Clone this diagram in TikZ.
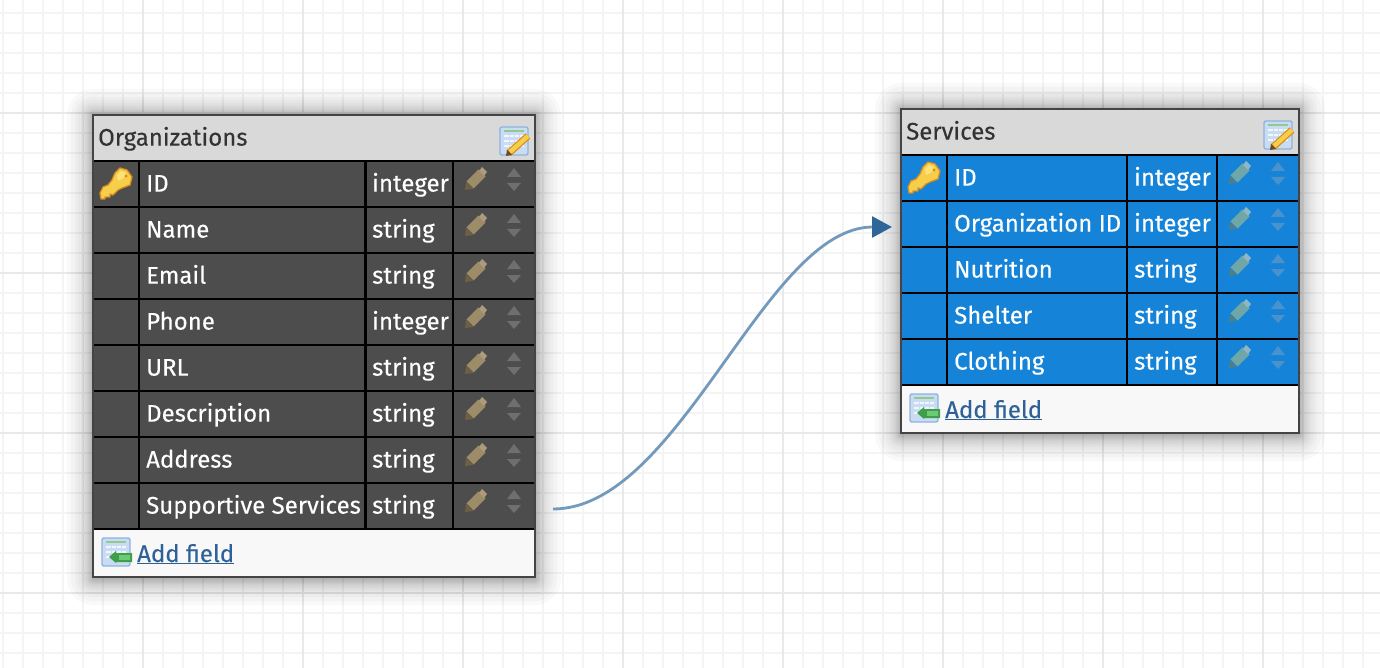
\documentclass[tikz,border=0pt]{standalone}
\usepackage{fontspec}
\setmainfont{Fira Sans}[FakeBold=0.25]
\usetikzlibrary{arrows.meta}
\definecolor{gridminor}{HTML}{F4F4F4}
\definecolor{gridmajor}{HTML}{E9E9E9}
\definecolor{darkrow}{HTML}{4D4D4D}
\definecolor{bluerow}{HTML}{1584D8}
\definecolor{headbg}{HTML}{D9D9D9}
\definecolor{footbg}{HTML}{F8F8F8}
\definecolor{frame}{HTML}{444444}
\definecolor{linkblue}{HTML}{2D6197}
\definecolor{wirecol}{HTML}{7399BD}
\definecolor{tipcol}{HTML}{2F6699}
\definecolor{gold}{HTML}{F7CE4A}
\definecolor{goldlight}{HTML}{FBE27A}
\definecolor{goldedge}{HTML}{D98E1F}
\definecolor{iconedge}{HTML}{8FB4DC}
\definecolor{iconfill}{HTML}{C9DCF3}
\definecolor{iconrow}{HTML}{F2F7FD}
\definecolor{icongreen}{HTML}{8FCB8B}
\definecolor{addgreen}{HTML}{3E9E4A}
\definecolor{addlight}{HTML}{6CCB74}
\definecolor{nib}{HTML}{6B4A2A}
\definecolor{penorg}{HTML}{9C8C68}
\definecolor{penorgd}{HTML}{6E5F45}
\definecolor{penorgl}{HTML}{AB9C80}
\definecolor{pensvc}{HTML}{6FA6A8}
\definecolor{pensvcd}{HTML}{4E7F88}
\definecolor{pensvcl}{HTML}{8FB6C4}
\definecolor{sortorg}{HTML}{6F6F6F}
\definecolor{sortsvc}{HTML}{4A92CC}
\tikzset{
  celltxt/.style={anchor=base west,inner sep=0pt,text=white,font=\fontsize{24}{24}\selectfont},
  headtxt/.style={anchor=base west,inner sep=0pt,text=black!80,font=\fontsize{24}{24}\selectfont},
  linktxt/.style={anchor=base west,inner sep=0pt,text=linkblue,font=\fontsize{24}{24}\selectfont},
  rule/.style={draw=black,line width=2.6pt},
  wire/.style={draw=wirecol,line width=2.8pt},
  tipstyle/.style={-{Triangle[length=20pt,width=21pt,color=tipcol]}},
  pics/keyicon/.style={code={
    \draw[line width=1.3pt,draw=goldedge,fill=gold,line join=round]
      (-1,-10) -- (4,-15) -- (11,-13) -- (16,-6) -- (14,2) -- (6,5) -- (2,7) -- (-3,12)
      -- (-6,11) -- (-6,14) -- (-11,14) -- (-11,16) -- (-15,16) -- (-16,10) -- (-13,4) -- (-8,2) -- (-4,-3) -- cycle;
    \fill[goldlight] (1,-8) -- (5,-12) -- (10,-10) -- (8,-5) -- (2,-2) -- cycle;
    \fill[goldedge] (10,-7) circle (1.6pt);
  }},
  pics/editicon/.style={code={
    \draw[line width=1.4pt,draw=iconedge,fill=iconfill,rounded corners=2pt] (-14,-14) rectangle (14,14);
    \fill[icongreen] (-10,-11) rectangle (10,-9);
    \foreach \r in {-5,0,5}{\fill[iconrow] (-10,\r-1.2) rectangle (10,\r+1.2);}
    \foreach \c in {-5,0,5}{\draw[iconfill,line width=1pt] (\c,-7) -- (\c,10);}
    \draw[line width=7pt,draw=goldedge] (-5,12) -- (14,-5);
    \draw[line width=4.5pt,draw=gold] (-4,11) -- (14,-5);
    \fill[nib] (-8,15) -- (-7,9) -- (-2,14) -- cycle;
  }},
  pics/addicon/.style={code={
    \draw[line width=1.4pt,draw=iconedge,fill=iconfill,rounded corners=2pt] (-14,-14) rectangle (14,14);
    \fill[icongreen] (-10,-11) rectangle (10,-9);
    \foreach \r in {-5,0,5}{\fill[iconrow] (-10,\r-1.2) rectangle (10,\r+1.2);}
    \foreach \c in {-5,0,5}{\draw[iconfill,line width=1pt] (\c,-7) -- (\c,10);}
    \fill[addgreen] (-7,5) -- (0,-1) -- (0,1) -- (16,1) -- (16,10) -- (0,10) -- (0,11) -- cycle;
    \fill[addlight] (3,3) rectangle (14,8);
  }},
  pics/pencilorgicon/.style={code={
    \draw[line width=10pt,draw=penorg] (-6,6) -- (6,-6);
    \fill[penorgd] (-11,11) -- (-10,3) -- (-3,10) -- cycle;
    \fill[penorgl] (6,-12) -- (11,-7) -- (8,-3) -- (3,-8) -- cycle;
  }},
  pics/pencilsvcicon/.style={code={
    \draw[line width=10pt,draw=pensvc] (-6,6) -- (6,-6);
    \fill[pensvcd] (-11,11) -- (-10,3) -- (-3,10) -- cycle;
    \fill[pensvcl] (6,-12) -- (11,-7) -- (8,-3) -- (3,-8) -- cycle;
  }},
  pics/sorticon/.style={code={
    \fill[#1] (-7,-3) -- (7,-3) -- (0,-12) -- cycle;
    \fill[#1] (-7,3) -- (7,3) -- (0,11) -- cycle;
  }},
}
\newcommand{\softshadow}[4]{%
  \foreach \g in {26,22,18,15,12,10,8,6,5,4,3,2,1,0}{
    \fill[black,opacity=0.022,rounded corners=\g pt] (#1-\g,#2-\g) rectangle (#3+\g,#4+\g+2);
  }}
\begin{document}
\begin{tikzpicture}[x=1pt,y=-1pt]
\useasboundingbox (0,0) rectangle (1380,668);
\fill[white] (0,0) rectangle (1380,668);
% grid
\foreach \i in {0,...,68}{\draw[gridminor,line width=2pt] (3+20*\i,0) -- (3+20*\i,668);}
\foreach \i in {0,...,33}{\draw[gridminor,line width=2pt] (0,13+20*\i) -- (1380,13+20*\i);}
\foreach \i in {0,...,8}{\draw[gridmajor,line width=2pt] (143+160*\i-160,0) -- (143+160*\i-160,668);}
\foreach \i in {0,...,3}{\draw[gridmajor,line width=2pt] (0,113+160*\i) -- (1380,113+160*\i);}
% shadows
\softshadow{93}{115}{535}{577}
\softshadow{901}{109}{1299}{433}
% table 1
\fill[headbg] (93,115) rectangle (535,161);
\fill[darkrow] (93,161) rectangle (535,529);
\fill[footbg] (93,529) rectangle (535,577);
\foreach \n in {0,...,8}{\draw[rule] (93,161+46*\n) -- (535,161+46*\n);}
\foreach \c in {139,365.5,453}{\draw[rule] (\c,161) -- (\c,529);}
\draw[frame,line width=2.6pt] (93,115) rectangle (535,577);
\node[headtxt] (orgtitle) at (98,145.6) {Organizations};
\pic at (514,141) {editicon};
\pic at (116,183) {keyicon};
\foreach \n/\nm/\ty [count=\k from 0] in {a/ID/integer,b/Name/string,c/Email/string,d/Phone/integer,e/URL/string,f/Description/string,g/Address/string,h/Supportive Services/string}{
  \node[celltxt] (org\n) at (146,191.6+46*\k) {\nm};
  \node[celltxt] (orgt\n) at (372,191.6+46*\k) {\ty};
  \pic at (476,179+46*\k) {pencilorgicon};
  \pic at (514,180+46*\k) {sorticon={sortorg}};
}
\pic at (116,552) {addicon};
\node[linktxt] (orgadd) at (137,562) {\underline{Add field}};
% table 2
\fill[headbg] (901,109) rectangle (1299,155);
\fill[bluerow] (901,155) rectangle (1299,385);
\fill[footbg] (901,385) rectangle (1299,433);
\foreach \n in {0,...,5}{\draw[rule] (901,155+46*\n) -- (1299,155+46*\n);}
\foreach \c in {947,1127,1217}{\draw[rule] (\c,155) -- (\c,385);}
\draw[frame,line width=2.6pt] (901,109) rectangle (1299,433);
\node[headtxt] (svctitle) at (906,139.6) {Services};
\pic at (1278,135) {editicon};
\pic at (924,177) {keyicon};
\foreach \n/\nm/\ty [count=\k from 0] in {a/ID/integer,b/Organization ID/integer,c/Nutrition/string,d/Shelter/string,e/Clothing/string}{
  \node[celltxt] (svc\n) at (954,185.6+46*\k) {\nm};
  \node[celltxt] (svct\n) at (1134,185.6+46*\k) {\ty};
  \pic at (1240,173+46*\k) {pencilsvcicon};
  \pic at (1278,174+46*\k) {sorticon={sortsvc}};
}
\pic at (924,408) {addicon};
\node[linktxt] (svcadd) at (945,418) {\underline{Add field}};
% connector
\coordinate (wirefrom) at (553,509);
\coordinate (wireto) at (892,227);
\draw[wire,tipstyle] (wirefrom) .. controls (680,509) and (765,227) .. (wireto);
\end{tikzpicture}
\end{document}
